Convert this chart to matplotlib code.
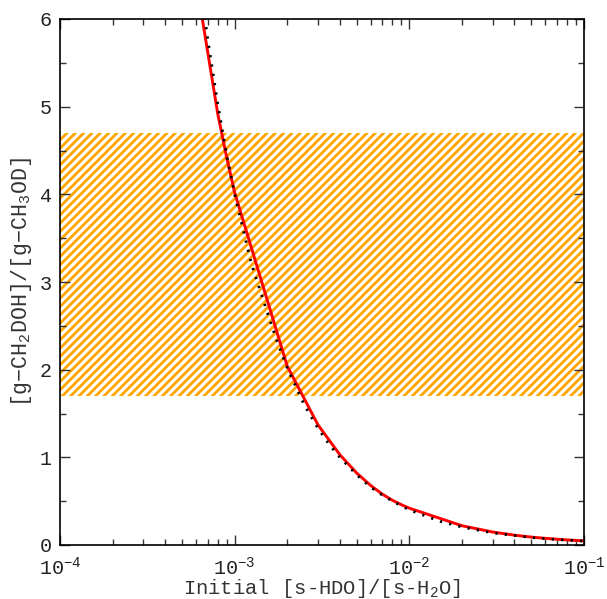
import numpy as np
import matplotlib
matplotlib.use("Agg")
from matplotlib import pyplot as plt
from matplotlib.ticker import LogLocator, MultipleLocator, FixedLocator, NullFormatter

plt.rcParams['font.family'] = ['Liberation Mono', 'DejaVu Sans']
plt.rcParams['mathtext.fontset'] = 'custom'
plt.rcParams['mathtext.rm'] = 'Liberation Mono'
plt.rcParams['mathtext.it'] = 'Liberation Mono'
plt.rcParams['hatch.linewidth'] = 2.0

# model curve (red, piecewise)
x_model = [6e-4, 7e-4, 8e-4, 9e-4, 1e-3, 2e-3, 3e-3, 4e-3, 5e-3, 6e-3, 7e-3, 8e-3, 9e-3,
           1e-2, 2e-2, 3e-2, 4e-2, 5e-2, 6e-2, 7e-2, 8e-2, 9e-2, 1e-1]
y_model = [6.45, 5.63, 4.92, 4.42, 4.02, 2.04, 1.37, 1.03, 0.82, 0.68, 0.58, 0.51, 0.46,
           0.42, 0.22, 0.148, 0.112, 0.09, 0.076, 0.066, 0.058, 0.052, 0.047]

# fit (black dotted)
x_fit = [6.5e-4, 7e-4, 8e-4, 9e-4, 1e-3, 1.25e-3, 1.5e-3, 1.75e-3, 2e-3, 2.5e-3, 3e-3, 3.5e-3,
         4e-3, 5e-3, 6e-3, 7e-3, 8e-3, 1e-2, 1.5e-2, 2e-2, 3e-2, 5e-2, 7e-2, 1e-1]
y_fit = [6.25, 5.78, 5.03, 4.45, 4.0, 3.2, 2.72, 2.32, 2.02, 1.6, 1.33, 1.14,
         1.0, 0.8, 0.66, 0.57, 0.5, 0.4, 0.27, 0.205, 0.138, 0.085, 0.062, 0.045]

# observed range
obs_low, obs_high = 1.7, 4.7

x_ticks = [1e-4, 1e-3, 1e-2, 1e-1]
x_ticklabels = [r'$\mathregular{10^{-4}}$', r'$\mathregular{10^{-3}}$',
                r'$\mathregular{10^{-2}}$', r'$\mathregular{10^{-1}}$']
y_ticks = [0, 1, 2, 3, 4, 5, 6]

fig = plt.figure(figsize=(6.07, 5.99), dpi=100)
ax = fig.add_axes([60/607, 1-545/599, 524/607, 526/599])

ax.axhspan(obs_low, obs_high, facecolor='white', edgecolor='#FFA500',
           hatch='////', linewidth=0, zorder=0)
ax.plot(x_model, y_model, color='red', lw=2.1, zorder=2)
ax.plot(x_fit, y_fit, color='black', lw=2.0, linestyle=(0, (0.8, 2.6)), zorder=3)

ax.set_xscale('log')
ax.set_xlim(1e-4, 1e-1)
ax.set_ylim(0, 6)

ax.xaxis.set_major_locator(FixedLocator(x_ticks))
ax.set_xticklabels(x_ticklabels)
ax.xaxis.set_minor_locator(LogLocator(base=10, subs=np.arange(2, 10)))
ax.xaxis.set_minor_formatter(NullFormatter())
ax.set_yticks(y_ticks)
ax.yaxis.set_minor_locator(MultipleLocator(0.5))

ax.tick_params(which='both', direction='in', top=True, right=True,
               color='#333333', labelsize=14.5, labelcolor='#222222', width=1.0)
ax.tick_params(which='major', length=7.5)
ax.tick_params(which='minor', length=4.5)
ax.tick_params(axis='x', which='major', pad=8)
ax.tick_params(axis='y', which='major', pad=6)
for s in ax.spines.values():
    s.set_linewidth(1.2)

ax.set_xlabel(r'Initial [s-HDO]/[s-H$_\mathregular{2}$O]', fontsize=14.8, color='#333333', labelpad=-1)
ax.set_ylabel(r'[g−CH$_\mathregular{2}$DOH]/[g−CH$_\mathregular{3}$OD]', fontsize=15.5,
              color='#333333', labelpad=4)

fig.savefig('out.png', dpi=100)
